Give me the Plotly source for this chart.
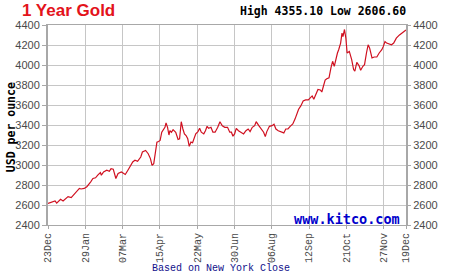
import numpy as np
import pandas as pd
import plotly.graph_objects as go

# Session index (business days since 23 Dec 2024) and gold price (USD/oz)
session = [0, 5.1, 6.3, 9.1, 10.9, 14.5, 16.8, 20.4, 22.7, 23.9, 26.2, 28.1, 29.7, 30.9, 32.5, 34.4,
           36.0, 37.9, 38.6, 40.2, 42.5, 44.4, 45.6, 47.2, 49.1, 50.7, 53.1, 54.7, 55.9, 57.8, 59.7,
           61.3, 62.9, 64.8, 67.1, 68.3, 70.6, 72.5, 74.1, 75.3, 76.5, 77.6, 78.8, 80.0, 81.1, 82.3,
           83.5, 84.6, 85.4, 86.5, 87.5, 88.2, 89.3, 90.5, 92.4, 94.1, 95.2, 96.4, 97.6, 98.7, 99.9,
           101.1, 102.2, 103.4, 104.6, 105.7, 106.9, 108.5, 109.7, 110.9, 112.7, 113.9, 115.1, 116.2,
           117.9, 119.3, 120.9, 122.8, 124.4, 126.1, 127.9, 129.9, 131.5, 132.7, 133.8, 135.0, 136.2,
           137.8, 139.7, 141.5, 143.2, 144.8, 146.2, 147.8, 149.5, 150.6, 152.5, 154.1, 156.0, 157.2,
           158.3, 160.2, 162.1, 163.5, 164.9, 166.6, 168.9, 170.6, 172.0, 173.6, 175.2, 177.1, 178.7,
           180.1, 181.3, 182.9, 184.6, 186.4, 188.3, 189.9, 191.1, 192.3, 193.9, 195.3, 197.0, 198.1,
           199.3, 200.5, 201.7, 203.3, 204.7, 205.9, 207.1, 208.0, 209.4, 210.3, 211.7, 212.7, 213.4,
           214.5, 215.5, 216.4, 218.0, 219.7, 221.1, 222.0, 223.4, 225.0, 226.2, 227.8, 229.0, 230.4,
           231.6, 232.7, 234.4, 236.0, 237.9, 239.6, 241.5, 242.6, 243.8, 245.0, 246.8, 248.5, 250.1,
           252.0, 254.3, 256.2, 257.8, 259]
price = [2615, 2641, 2618, 2657, 2641, 2684, 2674, 2727, 2766, 2760, 2766, 2783, 2806, 2832, 2865, 2872,
         2898, 2925, 2898, 2931, 2948, 2938, 2964, 2958, 2865, 2915, 2931, 2915, 2905, 2948, 2997,
         3031, 3047, 3037, 3080, 3130, 3146, 3113, 3064, 2997, 3014, 3130, 3229, 3235, 3245, 3328,
         3360, 3377, 3420, 3377, 3300, 3343, 3328, 3354, 3328, 3255, 3262, 3433, 3360, 3311, 3294,
         3262, 3186, 3229, 3222, 3278, 3311, 3334, 3367, 3328, 3311, 3343, 3387, 3367,
         3377, 3328, 3328, 3377, 3433, 3393, 3377, 3377, 3328, 3328, 3288, 3311, 3367,
         3343, 3328, 3311, 3343, 3360, 3334, 3377, 3393, 3433, 3393, 3360, 3328, 3284,
         3334, 3387, 3393, 3407, 3360, 3343, 3334, 3321, 3360, 3360, 3387, 3410, 3459,
         3509, 3558, 3591, 3641, 3651, 3651, 3674, 3691, 3658, 3707, 3756, 3750, 3730,
         3790, 3849, 3862, 3872, 3971, 4037, 3987, 4053, 4120, 4153, 4219, 4318, 4284,
         4355, 4268, 4120, 4136, 4053, 3955, 3938, 4027, 3994, 3947, 3987, 4004, 4120,
         4202, 4169, 4070, 4080, 4080, 4120, 4153, 4186, 4235, 4219, 4212, 4202, 4219,
         4268, 4301, 4324, 4344, 4350]

tick_dates = ["2024-12-23", "2025-01-29", "2025-03-07", "2025-04-15", "2025-05-22", "2025-06-30",
              "2025-08-06", "2025-09-12", "2025-10-21", "2025-11-27", "2025-12-19"]
y_ticks = [2400, 2600, 2800, 3000, 3200, 3400, 3600, 3800, 4000, 4200, 4400]

tick_vals = [int(np.busday_count("2024-12-23", d)) for d in tick_dates]
tick_text = [pd.Timestamp(d).strftime("%d%b") for d in tick_dates]

fig = go.Figure()
fig.add_trace(go.Scatter(x=session, y=price, mode="lines",
                         line=dict(color="#d01020", width=1.2), showlegend=False, hoverinfo="skip"))

grid = "#c6c6c6"
frame = "#a8a8a8"
tickfont_y = dict(family="Liberation Sans, Arial", size=11, color="#4a4a4a")

fig.update_layout(
    width=450, height=275,
    margin=dict(l=48, r=33, t=25, b=48),
    paper_bgcolor="white", plot_bgcolor="white",
    xaxis=dict(range=[0, tick_vals[-1]], tickvals=tick_vals, ticktext=tick_text, tickangle=-90,
               tickfont=dict(family="Liberation Mono, Courier New", size=10, color="#4a4a4a"),
               showgrid=True, gridcolor=grid, gridwidth=1, zeroline=False,
               showline=True, linecolor=frame, linewidth=1, mirror=True,
               ticks="outside", ticklen=3, tickcolor=frame),
    yaxis=dict(range=[2400, 4400], tickvals=y_ticks, tickfont=tickfont_y,
               showgrid=True, gridcolor=grid, gridwidth=1, zeroline=False,
               showline=True, linecolor=frame, linewidth=2, mirror=True,
               ticks="outside", ticklen=4, tickcolor=frame),
    yaxis2=dict(range=[2400, 4400], tickvals=y_ticks, tickfont=tickfont_y, overlaying="y",
                side="right", showgrid=False, zeroline=False, showline=False,
                ticks="outside", ticklen=4, tickcolor=frame),
)
fig.add_trace(go.Scatter(x=[None], y=[None], yaxis="y2", showlegend=False, hoverinfo="skip"))

fig.add_annotation(text="<b>1 Year Gold</b>", xref="paper", yref="paper", x=-0.078, y=1.074,
                   xanchor="left", yanchor="middle", showarrow=False,
                   font=dict(family="Liberation Sans, Arial", size=17, color="#e3131b"))
fig.add_annotation(text="<b>High 4355.10 Low 2606.60</b>", xref="paper", yref="paper", x=1.006, y=1.072,
                   xanchor="right", yanchor="middle", showarrow=False,
                   font=dict(family="DejaVu Sans Mono", size=11.5, color="black"))
fig.add_annotation(text="<b>USD per ounce</b>", xref="paper", yref="paper", x=-0.103, y=0.49,
                   xanchor="center", yanchor="middle", showarrow=False, textangle=-90,
                   font=dict(family="DejaVu Sans Mono", size=11.5, color="black"))
fig.add_annotation(text="Based on New York Close", xref="paper", yref="paper", x=0.482, y=-0.218,
                   xanchor="center", yanchor="middle", showarrow=False,
                   font=dict(family="Liberation Mono, Courier New", size=10, color="#10108a"))
fig.add_annotation(text="<b>www.kitco.com</b>", xref="paper", yref="paper", x=0.989, y=0.03,
                   xanchor="right", yanchor="middle", showarrow=False,
                   font=dict(family="DejaVu Sans Mono", size=13.5, color="#0000cc"))

fig.write_html("out.html")
